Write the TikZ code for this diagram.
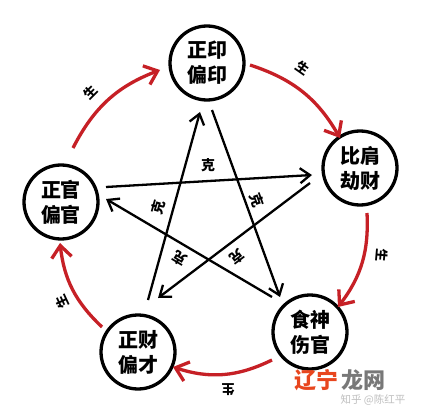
\documentclass[tikz,border=0pt]{standalone}
\usepackage{fontspec}
\newfontfamily\cjk{Noto Sans CJK SC}
\usetikzlibrary{arrows.meta}
\definecolor{myred}{RGB}{198,32,38}
\definecolor{logored}{RGB}{232,70,30}
\definecolor{logogray}{RGB}{120,120,120}
\begin{document}
\begin{tikzpicture}[x=1pt,y=1pt,
  wx/.style={circle,draw,fill=white,line width=3.3pt,minimum size=74pt,inner sep=0pt,align=center,font=\cjk\bfseries\fontsize{20}{25}\selectfont},
  sheng/.style={draw=myred,line width=3.3pt,-{Straight Barb[length=12pt,width=20pt]}},
  ke/.style={draw=black,line width=2.3pt,-{Straight Barb[length=10pt,width=15pt]}},
  shenglab/.style={font=\cjk\bfseries\fontsize{13}{13}\selectfont,inner sep=0pt},
  kelab/.style={font=\cjk\bfseries\fontsize{14}{14}\selectfont,inner sep=0pt},
  logo/.style={font=\cjk\bfseries\fontsize{22}{22}\selectfont,inner sep=0pt},
]
\useasboundingbox (0,0) rectangle (426,416);
\fill[white] (0,0) rectangle (426,416);

% circles
\node[wx] (T)  at (207,353) {正印\\偏印};
\node[wx] (R)  at (360,248) {比肩\\劫财};
\node[wx] (L)  at (61,214)  {正官\\偏官};
\node[wx] (BL) at (138,64)  {正财\\偏才};
\node[wx] (BR) at (310,84)  {食神\\伤官};

% generating arcs
\coordinate (s1) at (73,268);  \coordinate (e1) at (160,346);
\coordinate (s2) at (250,351); \coordinate (e2) at (340,278);
\coordinate (s3) at (367,203); \coordinate (e3) at (338,109);
\coordinate (s4) at (272,56);  \coordinate (e4) at (173,49);
\coordinate (s5) at (102,89);  \coordinate (e5) at (60,173);
\draw[sheng] (s1) to[bend left=21] (e1);
\draw[sheng] (s2) to[bend left=21] (e2);
\draw[sheng] (s3) to[bend left=20] (e3);
\draw[sheng] (s4) to[bend left=22] (e4);
\draw[sheng] (s5) to[bend left=20] (e5);
\node[shenglab,rotate=45]  (g1) at (90,324)  {生};
\node[shenglab,rotate=-35] (g2) at (303,348) {生};
\node[shenglab,rotate=-95] (g3) at (382,161) {生};
\node[shenglab,rotate=180] (g4) at (228,26)  {生};
\node[shenglab,rotate=115] (g5) at (62,114)  {生};

% controlling star
\coordinate (ka) at (148,116); \coordinate (kA) at (200,304);
\coordinate (kb) at (212,306); \coordinate (kB) at (280,119);
\coordinate (kc) at (106,229); \coordinate (kC) at (312,241);
\coordinate (kd) at (310,233); \coordinate (kD) at (158,118);
\coordinate (ke) at (272,119); \coordinate (kE) at (106,217);
\draw[ke] (ka) -- (kA);
\draw[ke] (kb) -- (kB);
\draw[ke] (kc) -- (kC);
\draw[ke] (kd) -- (kD);
\draw[ke] (ke) -- (kE);
\node[kelab] (k1) at (208,251) {克};
\node[kelab,rotate=74]   (k2) at (158,209) {克};
\node[kelab,rotate=-70]  (k3) at (257,216) {克};
\node[kelab,rotate=149]  (k4) at (180,158) {克};
\node[kelab,rotate=-143] (k5) at (237,159) {克};

% watermark
\node[logo,text=logored] (w1) at (316,36) {辽宁};
\node[logo,text=logogray] (w2) at (363,36) {龙网};
\node[font=\cjk\fontsize{10.5}{11}\selectfont,text=black!25,inner sep=0pt] (w3) at (373,16) {知乎 @陈红平};
\end{tikzpicture}
\end{document}
